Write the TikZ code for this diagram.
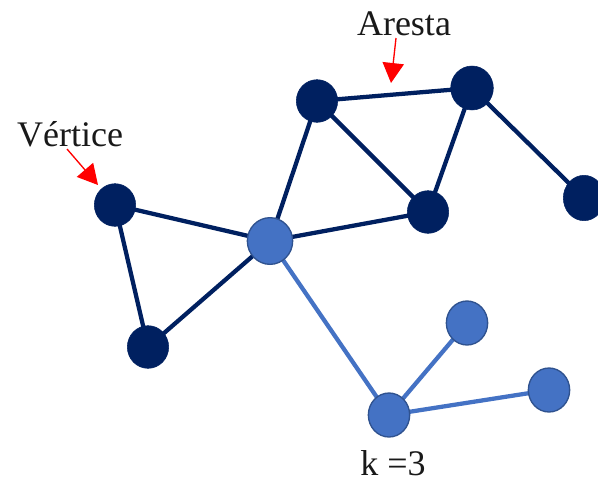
\documentclass[tikz,border=0pt]{standalone}
\usepackage{fontspec}
\setmainfont{Liberation Serif}
\usetikzlibrary{arrows.meta,shapes.geometric}
\definecolor{navy}{HTML}{002060}
\definecolor{lblue}{HTML}{4472C4}
\definecolor{lbord}{HTML}{2F528F}
\begin{document}
\begin{tikzpicture}[x=0.75pt,y=-0.75pt,
  dnode/.style={ellipse, fill=navy, draw=navy, minimum width=31pt, minimum height=32pt, inner sep=0pt},
  lnode/.style={ellipse, fill=lblue, draw=lbord, line width=1pt, minimum width=31pt, minimum height=33pt, inner sep=0pt},
  dedge/.style={draw=navy, line width=3.2pt},
  ledge/.style={draw=lblue, line width=3.2pt},
  redarrow/.style={draw=red, line width=1pt, -{Triangle[length=15pt,width=16pt]}},
  lbl/.style={font=\fontsize{27}{30}\selectfont, inner sep=0pt, text=black!90}]
\useasboundingbox (0,0) rectangle (598,482);
\clip (0,0) rectangle (598,482);
\coordinate (Gc) at (270,241);
\coordinate (Ac) at (115,205);
\coordinate (Bc) at (148,347);
\coordinate (Cc) at (317,101);
\coordinate (Dc) at (472,88);
\coordinate (Ec) at (428,212);
\coordinate (Fc) at (584,198);
\coordinate (Hc) at (389,415);
\coordinate (Ic) at (467,323);
\coordinate (Jc) at (549,390);
% edges
\draw[dedge] (Ac) -- (Gc);
\draw[dedge] (Ac) -- (Bc);
\draw[dedge] (Bc) -- (Gc);
\draw[dedge] (Gc) -- (Cc);
\draw[dedge] (Gc) -- (Ec);
\draw[dedge] (Cc) -- (Ec);
\draw[dedge] (Cc) -- (Dc);
\draw[dedge] (Dc) -- (Ec);
\draw[dedge] (Dc) -- (Fc);
\draw[ledge] (Gc) -- (Hc);
\draw[ledge] (Hc) -- (Ic);
\draw[ledge] (Hc) -- (Jc);
% nodes
\node[dnode] (A) at (Ac) {};
\node[dnode] (B) at (Bc) {};
\node[dnode] (C) at (Cc) {};
\node[dnode, minimum width=32pt, minimum height=33pt] (D) at (Dc) {};
\node[dnode] (E) at (Ec) {};
\node[dnode, minimum height=34pt] (F) at (Fc) {};
\node[lnode, minimum width=34pt, minimum height=35pt] (G) at (Gc) {};
\node[lnode] (H) at (Hc) {};
\node[lnode] (I) at (Ic) {};
\node[lnode] (J) at (Jc) {};
% labels
\node[lbl, anchor=base] (vert) at (70,146) {Vértice};
\node[lbl, anchor=base] (ares) at (404,35) {Aresta};
\node[lbl, anchor=base] (k) at (393,475) {k =3};
\coordinate (v1) at (67,149);
\coordinate (v2) at (98,185);
\coordinate (a1) at (396,38);
\coordinate (a2) at (391,83);
\draw[redarrow] (v1) -- (v2);
\draw[redarrow] (a1) -- (a2);
\end{tikzpicture}
\end{document}
